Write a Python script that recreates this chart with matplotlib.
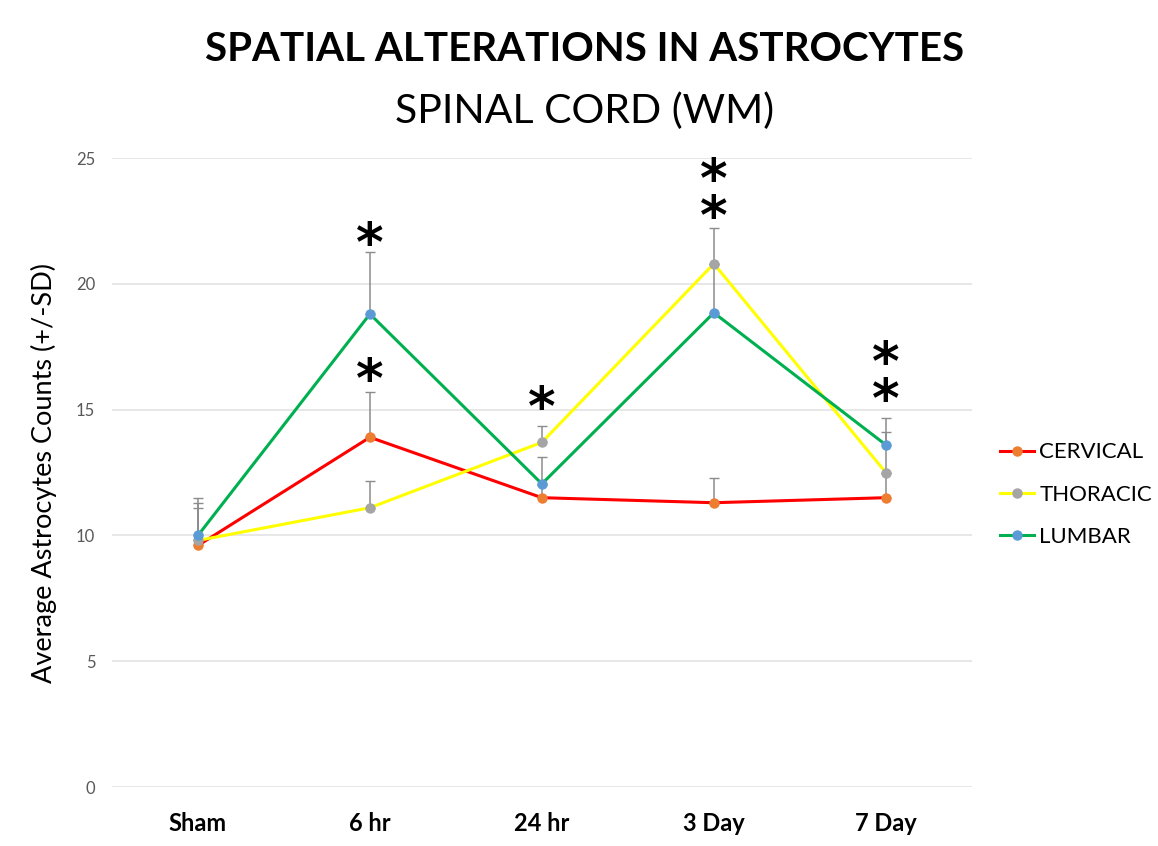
import matplotlib
matplotlib.use("Agg")
import matplotlib.pyplot as plt
import numpy as np

plt.rcParams['font.family'] = ['Lato', 'DejaVu Sans']

timepoints = ["Sham", "6 hr", "24 hr", "3 Day", "7 Day"]

cervical = [9.6, 13.9, 11.5, 11.3, 11.5]
thoracic = [9.8, 11.1, 13.7, 20.8, 12.5]
lumbar = [10.0, 18.8, 12.05, 18.85, 13.6]

cervical_sd = [1.5, 1.8, 0.5, 1.0, 1.0]
thoracic_sd = [1.5, 1.05, 0.65, 1.4, 1.6]
lumbar_sd = [1.5, 2.45, 1.05, 1.95, 1.05]

# significance markers: (timepoint index, y position, symbol)
significance = [
    (1, 21.5, "*"), (1, 16.1, "*"),
    (2, 15.0, "*"),
    (3, 23.3, "*\n*"),
    (4, 16.05, "*\n*"),
]

series = [
    ("CERVICAL", cervical, cervical_sd, "#FF0000", "#ED7D31"),
    ("THORACIC", thoracic, thoracic_sd, "#FFFF00", "#A5A5A5"),
    ("LUMBAR", lumbar, lumbar_sd, "#00B050", "#5B9BD5"),
]

fig = plt.figure(figsize=(11.58, 8.46), dpi=100)
ax = fig.add_axes([0.0967, 0.0697, 0.7425, 0.7435])

x = np.arange(len(timepoints))
for name, vals, sd, lc, mc in series:
    vals = np.array(vals)
    sd = np.array(sd)
    ax.errorbar(x, vals, yerr=[np.zeros_like(sd), sd], fmt="none",
                ecolor="#8C8C8C", elinewidth=1.1, capsize=3.5, capthick=1.0,
                zorder=2)
for name, vals, sd, lc, mc in series:
    ax.plot(x, vals, color=lc, linewidth=2.2, marker="o", markersize=6.5,
            markerfacecolor=mc, markeredgecolor=mc, label=name, zorder=3)

for xi, yi, s in significance:
    ax.text(xi, yi, s, ha="center", va="center", fontsize=38,
            family="DejaVu Sans", fontweight="bold", color="black",
            linespacing=0.64, zorder=4)

ax.set_xlim(-0.5, len(timepoints) - 0.5)
ax.set_ylim(0, 25)
ax.set_yticks([0, 5, 10, 15, 20, 25])
ax.set_xticks(x)
ax.set_xticklabels(timepoints, fontsize=17, fontweight="bold", color="black")
ax.tick_params(axis="y", labelsize=12, labelcolor="#595959", length=0, pad=12)
ax.tick_params(axis="x", length=0, pad=18)
ax.grid(axis="y", color="#E3E3E3", linewidth=1.2)
ax.set_axisbelow(True)
for sp in ax.spines.values():
    sp.set_visible(False)

ax.set_ylabel("Average Astrocytes Counts (+/-SD)", fontsize=19.5, labelpad=14)

fig.text(0.505, 0.941, "SPATIAL ALTERATIONS IN ASTROCYTES", ha="center",
         va="center", fontsize=29, fontweight="bold")
fig.text(0.505, 0.869, "SPINAL CORD (WM)", ha="center", va="center",
         fontsize=29.5)

ax.legend(loc="center left", bbox_to_anchor=(1.01, 0.465), frameon=False,
          fontsize=16, handlelength=1.5, handletextpad=0.25, labelspacing=1.0)

fig.savefig("out.png", dpi=100)
